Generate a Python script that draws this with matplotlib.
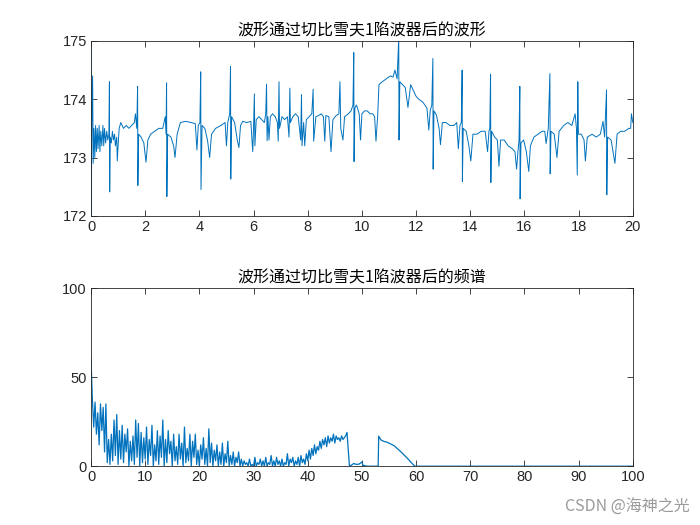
import matplotlib
matplotlib.use('Agg')
import matplotlib.pyplot as plt
import numpy as np

plt.rcParams['font.family'] = ['Noto Sans CJK SC', 'DejaVu Sans']

# Waveform after the Chebyshev notch filter (time in s, value)
wave_t = [0, 0.01, 0.03, 0.06, 0.08, 0.11, 0.14, 0.17, 0.2, 0.23, 0.26, 0.3, 0.33, 0.36, 0.4, 0.44, 0.47, 0.5,
          0.54, 0.58, 0.62, 0.66, 0.68, 0.69, 0.71, 0.75, 0.79, 0.83, 0.87, 0.9, 0.95, 0.97, 1.0, 1.04,
          1.1, 1.2, 1.3, 1.4, 1.5, 1.6, 1.64, 1.69,
          1.72, 1.73, 1.76, 1.85, 1.95, 2.03, 2.1, 2.2, 2.35, 2.5, 2.65, 2.74, 2.77,
          2.79, 2.8, 2.83, 2.95, 3.05, 3.1, 3.18, 3.3, 3.5, 3.7, 3.85, 3.91, 3.96, 4.02,
          4.05, 4.06, 4.1, 4.2, 4.3, 4.38, 4.45, 4.6, 4.8, 4.95, 5.0, 5.05, 5.12,
          5.15, 5.16, 5.19, 5.3, 5.4, 5.46, 5.52, 5.6, 5.75, 5.9, 5.97, 6.0, 6.03, 6.05, 6.1, 6.2, 6.3, 6.4, 6.45,
          6.48, 6.5, 6.53, 6.57, 6.62, 6.7, 6.8, 6.88, 6.91, 6.94, 6.96, 7.05, 7.15, 7.25, 7.31, 7.34, 7.36,
          7.45, 7.55, 7.65, 7.74, 7.77, 7.79, 7.85, 7.89, 7.95, 8.05, 8.15, 8.2, 8.22, 8.3, 8.4, 8.5, 8.58,
          8.63, 8.67, 8.78, 8.86, 8.93, 9.05, 9.15, 9.19, 9.22, 9.3, 9.36, 9.5, 9.6, 9.67,
          9.7, 9.71, 9.74, 9.8, 9.9, 9.95, 10.0, 10.1, 10.2, 10.3, 10.4, 10.47, 10.52, 10.58, 10.63, 10.75,
          10.9, 11.05, 11.15, 11.22, 11.3,
          11.36, 11.37, 11.4, 11.5, 11.6, 11.7, 11.8, 11.9, 12.0, 12.1, 12.25, 12.4, 12.47, 12.52, 12.58,
          12.62, 12.63, 12.66, 12.75, 12.85, 12.9, 12.97, 13.1, 13.25, 13.4, 13.5, 13.56, 13.62, 13.67,
          13.7, 13.71, 13.74, 13.85, 13.95, 14.02, 14.1, 14.25, 14.4, 14.55, 14.64, 14.69, 14.72,
          14.75, 14.76, 14.79, 14.9, 15.0, 15.06, 15.12, 15.25, 15.4, 15.55, 15.65, 15.71, 15.76, 15.8,
          15.83, 15.84, 15.87, 15.97, 16.07, 16.16, 16.22, 16.35, 16.5, 16.65, 16.75, 16.8, 16.88,
          16.94, 16.95, 16.98, 17.1, 17.2, 17.28, 17.45, 17.6, 17.75, 17.87, 17.92, 17.95,
          17.97, 17.99, 18.1, 18.2, 18.25, 18.32, 18.5, 18.65, 18.8, 18.9, 18.96,
          19.03, 19.04, 19.07, 19.2, 19.34, 19.42, 19.55, 19.7, 19.85, 19.92, 19.95, 20.0]
wave_v = [175, 172.0, 173.6, 174.4, 172.9, 173.5, 173.0, 173.55, 173.1, 173.5, 173.15, 173.55, 173.1, 173.45, 173.2, 173.55, 173.2, 173.5,
          173.25, 173.45, 173.3, 173.4, 174.3, 172.41, 173.35, 173.25, 173.45, 173.3, 173.4, 173.2, 173.35, 172.94, 173.2, 173.5,
          173.6, 173.5, 173.55, 173.5, 173.55, 173.6, 173.75, 173.5,
          174.22, 172.52, 173.4, 173.35, 173.25, 172.92, 173.3, 173.4, 173.45, 173.5, 173.5, 173.7, 173.4,
          174.28, 172.33, 173.4, 173.35, 173.2, 173.0, 173.4, 173.6, 173.62, 173.6, 173.58, 173.13, 173.55, 173.6,
          174.47, 172.45, 173.55, 173.5, 173.3, 173.0, 173.4, 173.5, 173.55, 173.6, 173.2, 173.6, 173.75,
          174.56, 172.63, 173.7, 173.6, 173.3, 173.17, 173.55, 173.62, 173.6, 173.62, 173.1, 173.5, 174.09, 173.2, 173.65, 173.7, 173.65, 173.6, 173.75,
          174.26, 173.29, 173.7, 173.3, 173.7, 173.75, 173.7, 173.6, 173.28, 174.3, 173.5, 173.7, 173.65, 173.7, 173.35, 174.19, 173.6,
          173.7, 173.75, 173.7, 173.3, 174.08, 173.2, 173.6, 173.2, 173.65, 173.7, 173.75, 174.17, 173.28, 173.7, 173.72, 173.75, 173.7,
          173.28, 173.72, 173.7, 173.1, 173.65, 173.72, 173.75, 174.3, 173.5, 173.3, 173.7, 173.75, 173.8, 173.9,
          174.8, 172.93, 173.85, 173.9, 173.75, 173.3, 173.75, 173.8, 173.8, 173.75, 173.75, 173.7, 173.28, 173.7, 174.25, 174.3,
          174.35, 174.4, 174.38, 174.5, 174.35,
          175.05, 173.3, 174.3, 174.25, 174.2, 173.86, 174.25, 174.15, 174.05, 174.0, 173.95, 173.85, 173.47, 173.8, 173.9,
          174.7, 172.8, 173.8, 173.73, 173.5, 173.22, 173.6, 173.6, 173.55, 173.55, 173.6, 173.15, 173.55, 173.6,
          174.5, 172.59, 173.5, 173.45, 173.2, 172.94, 173.4, 173.4, 173.45, 173.45, 173.1, 173.45, 173.5,
          174.43, 172.57, 173.45, 173.35, 173.3, 172.85, 173.3, 173.3, 173.2, 173.15, 173.1, 172.8, 173.1, 173.3,
          174.22, 172.29, 173.25, 173.3, 173.1, 172.76, 173.2, 173.35, 173.4, 173.45, 173.45, 173.24, 173.5,
          174.44, 172.72, 173.45, 173.4, 173.0, 173.45, 173.55, 173.6, 173.55, 173.75, 173.5, 172.7,
          174.3, 173.4, 173.4, 173.3, 172.94, 173.35, 173.4, 173.35, 173.4, 173.62, 173.35,
          174.16, 172.36, 173.35, 173.3, 172.9, 173.4, 173.45, 173.45, 173.5, 173.5, 173.75, 173.6]

# Spectrum magnitude, 0..47.25 Hz on a 0.25 Hz grid
spec_step = 0.25
spec_noisy = [60, 38, 22, 36, 18, 30, 12, 35,
              20, 33, 8, 35, 2, 15, 1, 18,
              3, 26, 6, 29, 1, 20, 4, 23,
              2, 18, 8, 21, 0, 14, 3, 17,
              1, 26, 5, 24, 0, 19, 2, 16,
              4, 22, 1, 15, 6, 23, 0, 12,
              3, 20, 1, 17, 5, 26, 0, 15,
              2, 20, 7, 14, 0, 18, 3, 11,
              1, 18, 4, 13, 0, 22, 2, 10,
              3, 18, 0, 14, 5, 18, 1, 9,
              0, 12, 4, 16, 1, 10, 0, 21,
              2, 13, 0, 9, 3, 12, 0, 8,
              1, 13, 0, 7, 2, 14, 0, 6,
              1, 8, 0, 5, 2, 8, 0, 4,
              0, 3, 1, 2, 0, 4, 0, 1,
              0, 5, 0, 2, 1, 4, 0, 3,
              0, 5, 0, 2, 1, 6, 0, 3,
              0, 5, 1, 3, 0, 4, 0, 2,
              1, 7, 0, 4, 2, 5, 0, 3,
              1, 5, 0, 6, 2, 4, 1, 7,
              3, 9, 4, 10, 6, 12, 7, 11,
              9, 14, 10, 15, 12, 16, 11, 17,
              13, 16, 14, 18, 13, 17, 15, 16,
              14, 17, 15, 16, 17, 19]
# Tail of the spectrum (Hz, magnitude)
spec_tail_f = [47.7, 48.0, 48.5, 49.0, 49.5, 50.0, 50.2, 51.0, 53.0, 53.1, 53.5, 54.0, 54.8, 56.0, 57.3, 58.5, 59.3, 59.8, 100]
spec_tail_v = [0, 0.5, 1.5, 1.0, 1.2, 2.4, 0.5, 0, 0, 16.9, 14.8, 14.0, 13.3, 11.4, 7.8, 4.1, 1.4, 0, 0]

title1 = '波形通过切比雪夫1陷波器后的波形'
title2 = '波形通过切比雪夫1陷波器后的频谱'

line_color = '#0072BD'
axis_color = '#262626'

spec_f = list(np.arange(len(spec_noisy)) * spec_step) + spec_tail_f
spec_v = spec_noisy + spec_tail_v

fig = plt.figure(figsize=(7, 5.25), dpi=100)
ax1 = fig.add_axes([0.13, 0.589, 0.774, 0.333])
ax2 = fig.add_axes([0.13, 0.112, 0.774, 0.339])

ax1.plot(wave_t, wave_v, color=line_color, linewidth=0.7)
ax1.set_xlim(0, 20)
ax1.set_ylim(172, 175)
ax1.set_xticks(range(0, 21, 2))
ax1.set_yticks([172, 173, 174, 175])
ax1.set_title(title1, fontsize=11.5, color='black', pad=4)

ax2.plot(spec_f, spec_v, color=line_color, linewidth=0.9)
ax2.set_xlim(0, 100)
ax2.set_ylim(0, 100)
ax2.set_xticks(range(0, 101, 10))
ax2.set_yticks([0, 50, 100])
ax2.set_title(title2, fontsize=11.5, color='black', pad=4)

for ax in (ax1, ax2):
    ax.tick_params(direction='in', top=True, right=True, length=4, width=0.6,
                   colors=axis_color, labelsize=10.5, pad=3)
    for sp in ax.spines.values():
        sp.set_color(axis_color)
        sp.set_linewidth(0.6)
    for lab in ax.get_xticklabels() + ax.get_yticklabels():
        lab.set_family('Liberation Sans')

fig.text(0.985, 0.018, 'CSDN @海神之光', ha='right', va='bottom', fontsize=11.5, color='#9a9a9a')

fig.savefig('out.png', dpi=100)
